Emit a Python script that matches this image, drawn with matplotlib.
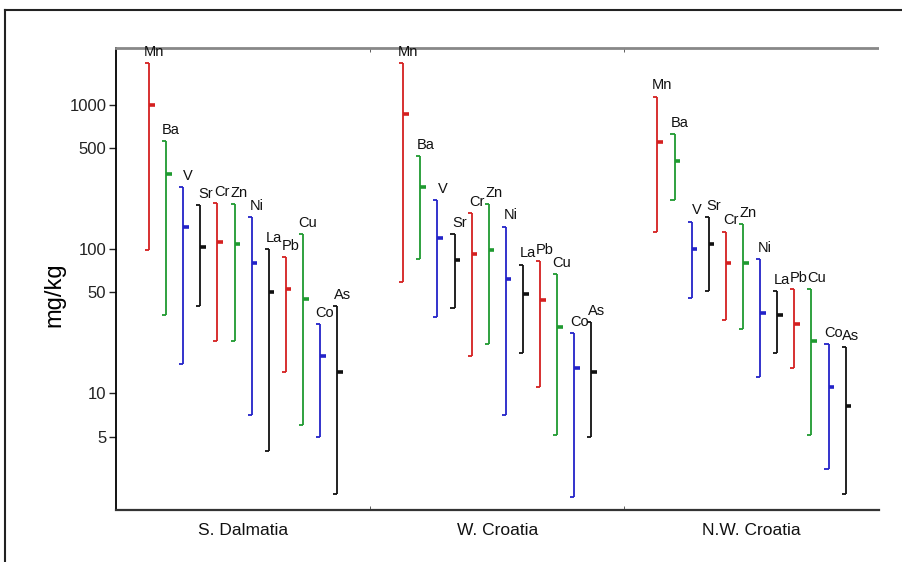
import matplotlib
matplotlib.use("Agg")
import matplotlib.pyplot as plt
from matplotlib.lines import Line2D

plt.rcParams['font.family'] = ['Liberation Sans', 'DejaVu Sans']

# element order inside every region
elements = ["Mn", "Ba", "V", "Sr", "Cr", "Zn", "Ni", "La", "Pb", "Cu", "Co", "As"]
regions = ["S. Dalmatia", "W. Croatia", "N.W. Croatia"]

# mg/kg : maximum, mean, minimum for each element
s_dalmatia_max = [1950, 560, 270, 202, 207, 205, 166, 100, 88, 127, 30, 40]
s_dalmatia_mean = [1000, 330, 143, 103, 111, 109, 80, 50, 53, 45, 18, 14]
s_dalmatia_min = [98, 35, 16, 40, 23, 23, 7.1, 4.0, 14, 6.0, 5.0, 2.0]

w_croatia_max = [1950, 440, 218, 127, 178, 205, 143, 78, 82, 67, 26, 31]
w_croatia_mean = [860, 270, 120, 84, 93, 99, 62, 49, 44, 29, 15, 14]
w_croatia_min = [59, 85, 34, 39, 18, 22, 7.1, 19, 11, 5.1, 1.9, 5.0]

nw_croatia_max = [1140, 625, 155, 167, 132, 149, 85, 51, 53, 53, 22, 21]
nw_croatia_mean = [555, 407, 100, 108, 80, 80, 36, 35, 30, 23, 11, 8.2]
nw_croatia_min = [132, 218, 46, 51, 32, 28, 13, 19, 15, 5.1, 3.0, 2.0]

maxs = [s_dalmatia_max, w_croatia_max, nw_croatia_max]
means = [s_dalmatia_mean, w_croatia_mean, nw_croatia_mean]
mins = [s_dalmatia_min, w_croatia_min, nw_croatia_min]

colours = ["#d42020", "#1f9a30", "#2323c8", "#111111"]

fig = plt.figure(figsize=(9.03, 5.62), dpi=100)
ax = fig.add_axes([0.1285, 0.0925, 0.8445, 0.8215])

step = 0.0673
cap = 0.016
for g in range(len(regions)):
    for i, el in enumerate(elements):
        x = g + 0.5 + (i - 5.5) * step
        c = colours[i % 4]
        hi, mu, lo = maxs[g][i], means[g][i], mins[g][i]
        ax.vlines(x, lo, hi, color=c, lw=1.3)
        ax.hlines([lo, hi], x - cap, x, color=c, lw=1.3)
        ax.hlines(mu, x, x + 0.022, color=c, lw=2.6)
        ax.annotate(el, (x, hi), xytext=(3.5, 3), textcoords='offset points',
                    ha='center', va='bottom', fontsize=10.5, color='#111111')

ax.set_yscale('log')
ax.set_ylim(1.55, 2460)
ax.set_xlim(0, 3)
ax.set_yticks([5, 10, 50, 100, 500, 1000])
ax.set_yticklabels(["5", "10", "50", "100", "500", "1000"])
ax.yaxis.set_minor_locator(matplotlib.ticker.NullLocator())
ax.tick_params(axis='y', labelsize=12, length=5, width=1, pad=2, colors='#222222')

ax.set_xticks([0.5, 1.5, 2.5])
ax.set_xticklabels(regions)
ax.set_xticks([1, 2], minor=True)
ax.tick_params(axis='x', which='major', length=0, pad=9, labelsize=12.5, colors='#111111')
ax.tick_params(axis='x', which='minor', direction='in', length=3,
               top=True, bottom=True, color='#444444')

ax.set_ylabel("mg/kg", fontsize=17)
ax.yaxis.set_label_coords(-0.066, 0.466)

ax.spines['right'].set_visible(False)
ax.spines['left'].set_linewidth(1.3)
ax.spines['top'].set_linestyle((0, (1.5, 1)))
ax.spines['top'].set_color('#888888')
ax.spines['top'].set_linewidth(2)
ax.spines['bottom'].set_linestyle((0, (2, 1)))
ax.spines['bottom'].set_color('#333333')
ax.spines['bottom'].set_linewidth(1.6)

# outer frame of the original page
fig.add_artist(Line2D([5 / 903, 1], [1 - 10 / 562, 1 - 10 / 562], color='#222222', lw=1.5))
fig.add_artist(Line2D([5 / 903, 5 / 903], [0, 1 - 10 / 562], color='#222222', lw=1.5))

fig.savefig("out.png", dpi=100)
